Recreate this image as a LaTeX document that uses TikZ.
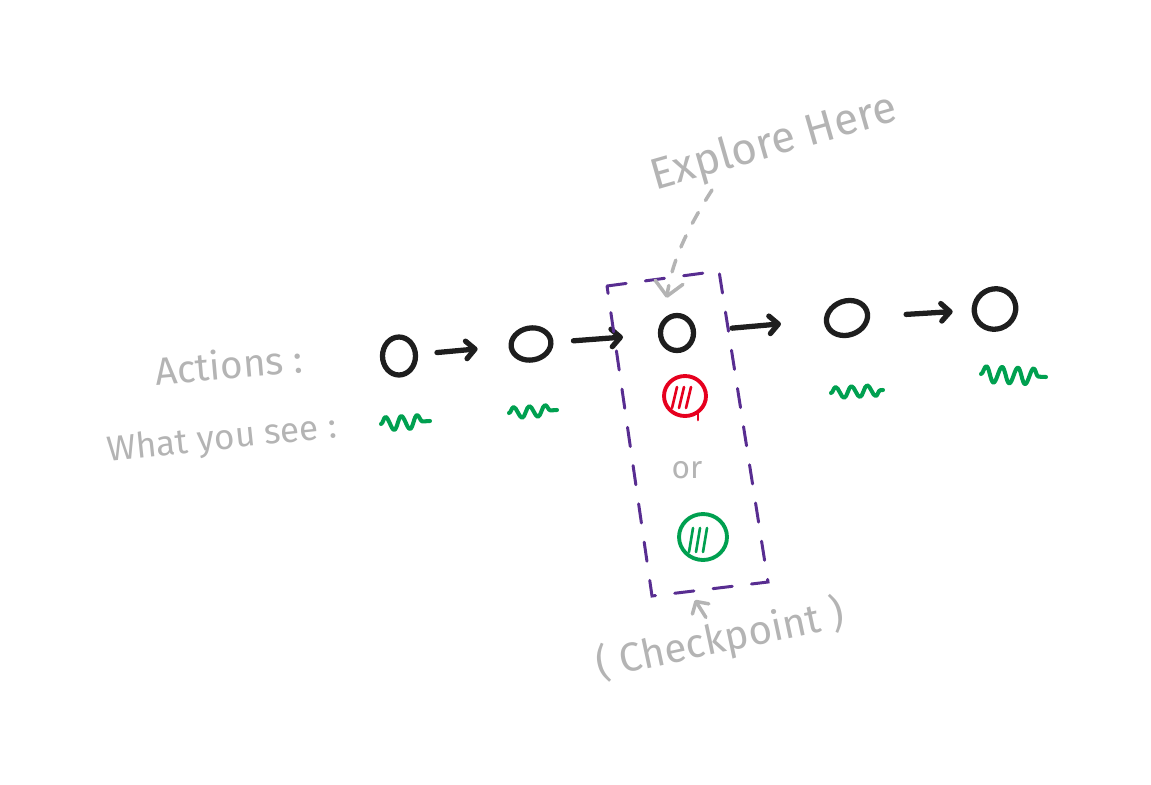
\documentclass[tikz,border=0pt]{standalone}
\usepackage{fontspec}
\usepackage{tikz}
\usetikzlibrary{arrows.meta,shapes.geometric,decorations.pathmorphing}

\newfontfamily\sketchfont{Fira Sans}
\newcommand{\handsize}[1]{\sketchfont\fontsize{#1}{#1}\selectfont}

\definecolor{ink}{RGB}{30,30,30}
\definecolor{sketchgray}{RGB}{180,180,180}
\definecolor{sketchgreen}{RGB}{0,160,80}
\definecolor{sketchred}{RGB}{230,0,30}
\definecolor{sketchpurple}{RGB}{88,45,145}

\begin{document}
\begin{tikzpicture}[x=0.02cm, y=-0.02cm,
    act/.style={ellipse, draw=ink, line width=3pt, inner sep=0pt},
    flow/.style={draw=ink, line width=3pt, line cap=round,
        -{Straight Barb[round, length=5pt, width=10pt]}},
    seen/.style={draw=sketchgreen, line width=2.3pt, line cap=round, line join=round,
        decorate, decoration={snake, segment length=9pt, amplitude=3.5pt}},
    probe/.style={ellipse, line width=2.2pt, inner sep=0pt},
    hatch/.style={line width=1.5pt, line cap=round},
    notetext/.style={text=sketchgray, inner sep=0pt},
    note/.style={draw=sketchgray, line width=2pt, line cap=round},
    checkbox/.style={draw=sketchpurple, line width=1.7pt, line cap=round,
        dash pattern=on 11pt off 11pt}]

    % ==========================================
    % Canvas (same proportions as the sketch)
    % ==========================================
    \useasboundingbox (0,0) rectangle (1151,784);

    % Row labels
    \node[notetext, font=\handsize{22}, rotate=5] (actions) at (229,364) {Actions :};
    \node[notetext, font=\handsize{20}, rotate=6] (whatsee) at (222,440) {What you see :};

    % Actions (black rings)
    \node[act, minimum width=0.66cm, minimum height=0.76cm] (a1) at (399,356) {};
    \node[act, minimum width=0.80cm, minimum height=0.64cm, rotate=10] (a2) at (531,344) {};
    \node[act, minimum width=0.66cm, minimum height=0.70cm] (a3) at (677,333) {};
    \node[act, minimum width=0.84cm, minimum height=0.68cm, rotate=20] (a4) at (847,318) {};
    \node[act, minimum width=0.84cm, minimum height=0.80cm, rotate=30] (a5) at (995,309) {};

    % Steps between actions
    \draw[flow, shorten <=0.38cm, shorten >=0.62cm] (a1) -- (a2);
    \draw[flow, shorten <=0.40cm, shorten >=0.70cm] (a2) -- (a3);
    \draw[flow, shorten <=0.72cm, shorten >=0.86cm] (a3) -- (a4);
    \draw[flow, shorten <=0.72cm, shorten >=0.38cm] (a4) -- (a5);

    % What you see (green scribbles)
    \foreach \xa/\ya/\xb/\yb/\amp in {381/424/430/421/3.8, 509/413/557/410/3.2,
                                      831/393/883/390/3.2, 981/374/1046/377/4.6}
        \draw[seen, decoration={amplitude=\amp pt}] (\xa,\ya) -- (\xb,\yb);

    % Checkpoint outcomes: red or green
    \node[probe, draw=sketchred, minimum width=0.84cm, minimum height=0.80cm] (bad) at (685,396) {};
    \foreach \dx in {-9,-2,5}
        \draw[hatch, sketchred] (681+\dx,408) -- (686+\dx,387);
    \draw[hatch, sketchred] (698,412) -- (698,420);

    \node[notetext, font=\handsize{18}] (or) at (687,470) {or};

    \node[probe, draw=sketchgreen, minimum width=0.96cm, minimum height=0.92cm] (good) at (703,537) {};
    \foreach \dx in {-8,-1,6}
        \draw[hatch, sketchgreen] (697+\dx,552) -- (701+\dx,528);

    % Checkpoint box (dashed, purple)
    \draw[checkbox] (607,286) -- (719,271) -- (768,582) -- (652,596) -- cycle;
    \coordinate (boxFoot) at (695,600);

    % Annotations
    \node[notetext, font=\handsize{25}, rotate=16] (explore) at (774,144) {Explore Here};
    \coordinate (exploreTail) at (712,190);
    \draw[note, dash pattern=on 7pt off 8pt, shorten >=12pt,
          -{Straight Barb[round, length=8pt, width=16pt]}]
        (exploreTail) to[bend right=12] (a3.north west);

    \node[notetext, font=\handsize{23}, rotate=12] (checkpoint) at (720,640) {( Checkpoint )};
    \draw[note, shorten <=2pt, -{Straight Barb[round, length=5pt, width=11pt]}]
        (checkpoint) -- (boxFoot);

\end{tikzpicture}
\end{document}
